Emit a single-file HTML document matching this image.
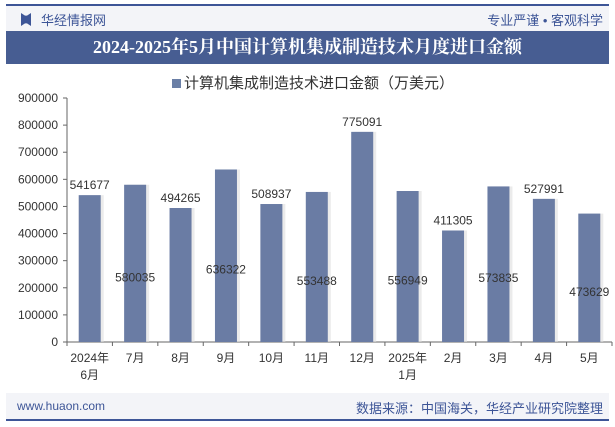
<!DOCTYPE html>
<html><head><meta charset="utf-8">
<style>
body{margin:0;width:615px;height:427px;background:#fff;font-family:"Liberation Sans","Noto Sans CJK SC",sans-serif;overflow:hidden;position:relative}
.abs{position:absolute}
</style></head><body>
<div class="abs" style="left:6px;top:4px;width:603px;height:2px;background:#3d5597"></div>
<div class="abs" style="left:6px;top:6px;width:603px;height:25px;background:#f3f4f8"></div>
<div class="abs" style="left:21px;top:13px;width:10px;height:13px;background:#3d5597;clip-path:polygon(0 0,40% 20%,60% 20%,100% 0,100% 100%,60% 80%,40% 80%,0 100%)"></div>
<div class="abs" style="left:41px;top:10px;font-size:13px;color:#3d5597">华经情报网</div>
<div class="abs" style="right:12px;top:10px;font-size:13px;color:#3d5597">专业严谨 • 客观科学</div>
<div class="abs" style="left:6px;top:31px;width:603px;height:33px;background:#475d92;color:#fff;font-family:'Liberation Serif','Noto Serif CJK SC',serif;font-weight:bold;font-size:18px;line-height:33px;text-align:center">2024-2025年5月中国计算机集成制造技术月度进口金额</div>
<div class="abs" style="left:172px;top:72px;font-size:15px;color:#333"><span style="display:inline-block;width:9px;height:9px;background:#6a7fa6;margin-right:3px"></span>计算机集成制造技术进口金额（万美元）</div>
<svg class="abs" style="left:0;top:0" width="615" height="427">
<g id="g"></g></svg>
<div class="abs" style="left:6px;top:393px;width:603px;height:27px;background:#f3f4f8"></div>
<div class="abs" style="left:6px;top:419px;width:603px;height:2px;background:#3d5597"></div>
<div class="abs" style="left:17px;top:399px;font-size:12px;color:#3d5597">www.huaon.com</div>
<div class="abs" style="right:12px;top:398px;font-size:13px;color:#3d5597">数据来源：中国海关，华经产业研究院整理</div>
<script>
const categories=[["2024年","6月"],["7月"],["8月"],["9月"],["10月"],["11月"],["12月"],["2025年","1月"],["2月"],["3月"],["4月"],["5月"]];
const values=[541677,580035,494265,636322,508937,553488,775091,556949,411305,573835,527991,473629];
const yTicks=[0,100000,200000,300000,400000,500000,600000,700000,800000,900000];
const labelInside=[0,1,0,1,0,1,0,1,0,1,0,1];
const NS="http://www.w3.org/2000/svg",g=document.getElementById('g');
const X0=67,X1=612,Y0=342,Y1=98,YMAX=900000;
const bw=(X1-X0)/categories.length;
const y=v=>Y0-v/YMAX*(Y0-Y1);
const xc=i=>X0+bw*(i+0.5);
function el(t,a){const e=document.createElementNS(NS,t);for(const k in a)e.setAttribute(k,a[k]);g.appendChild(e);return e;}
let ax=el('line',{x1:X0,y1:Y1,x2:X0,y2:Y0,stroke:'#666'});

yTicks.forEach(t=>{
 let l=el('line',{x1:X0-4,x2:X0,y1:y(t),y2:y(t),stroke:'#666'});
 let tx=el('text',{x:X0-9,y:y(t)+4,'text-anchor':'end','font-size':12,fill:'#333'});tx.textContent=t;
 
});
let bx=el('line',{x1:X0,y1:Y0,x2:X1,y2:Y0,stroke:'#666'});

values.forEach((v,i)=>{
 el('rect',{x:xc(i)-11+3,y:y(v),width:22,height:Y0-y(v),fill:'#ddd',opacity:0.6});
 let r=el('rect',{x:xc(i)-11,y:y(v),width:22,height:Y0-y(v),fill:'#6a7ca4'});
 
 let ly=labelInside[i]?y(v/2)+18:y(v)-6;
 let t=el('text',{x:xc(i),y:ly,'text-anchor':'middle','font-size':12,fill:'#333'});t.textContent=v;
 
});
for(let i=0;i<=categories.length;i++)el('line',{x1:X0+bw*i,x2:X0+bw*i,y1:Y0,y2:Y0+4,stroke:'#666'});
categories.forEach((c,i)=>{c.forEach((s,j)=>{
 let t=el('text',{x:xc(i),y:362+j*17,'text-anchor':'middle','font-size':12,fill:'#333'});t.textContent=s;
 
});});
</script>
</body></html>
